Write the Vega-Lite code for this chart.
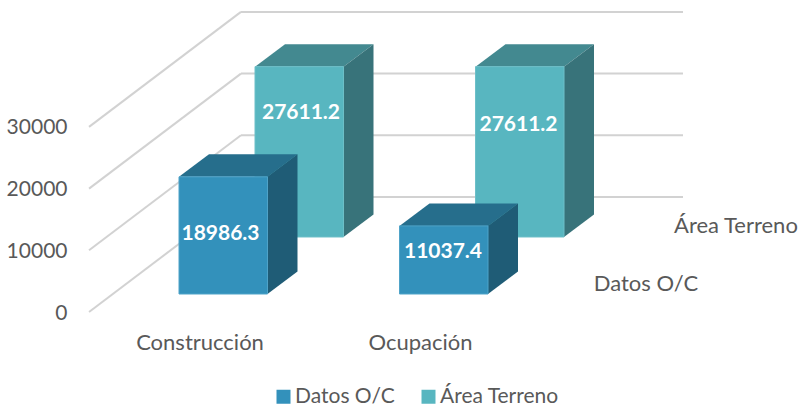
{
"$schema":"https://vega.github.io/schema/vega-lite/v6.json",
"width":802,"height":408,"padding":0,"autosize":{"type":"none"},"background":"white",
"config":{"view":{"stroke":null},"text":{"font":"Lato"},"legend":{"labelFont":"Lato"},
 "axisY":{"orient":"left","offset":-72,"title":null,"domain":false,"ticks":false,"grid":false,"labelFontSize":21,"labelColor":"#595959","labelPadding":5,"labelFont":"Lato","labelOffset":1}},
"datasets":{
"bars":[
{"category":"Construcción","series":"Datos O/C","value":18986.3},
{"category":"Ocupación","series":"Datos O/C","value":11037.4},
{"category":"Construcción","series":"Área Terreno","value":27611.2},
{"category":"Ocupación","series":"Área Terreno","value":27611.2}
],
"ticks":[{"tick":0},{"tick":10000},{"tick":20000},{"tick":30000}]
},
"layer":[
{"data":{"name":"ticks"},
 "transform":[{"calculate":"-0.408","as":"gx0"},{"calculate":"0.281","as":"gx1"},{"calculate":"datum.tick+18639","as":"gy1"}],
 "mark":{"type":"rule","color":"#d2d2d2","strokeWidth":2},
 "encoding":{
  "x":{"field":"gx0","type":"quantitative","scale":{"domain":[-0.8118,2.8254],"range":[0,802],"nice":false,"zero":false},"axis":null},
  "x2":{"field":"gx1"},
  "y":{"field":"tick","type":"quantitative","scale":{"domain":[-15559,50567],"range":[408,0],"nice":false,"zero":false},
       "axis":{"values":[0,10000,20000,30000],"title":null,"format":"d"}},
  "y2":{"field":"gy1"}}},
{"data":{"name":"ticks"},
 "transform":[{"calculate":"0.281","as":"gx1"},{"calculate":"2.2857","as":"gx2"},{"calculate":"datum.tick+18639","as":"gy1"}],
 "mark":{"type":"rule","color":"#d2d2d2","strokeWidth":2},
 "encoding":{
  "x":{"field":"gx1","type":"quantitative","axis":null},
  "x2":{"field":"gx2"},
  "y":{"field":"gy1","type":"quantitative","axis":{"values":[0,10000,20000,30000],"title":null,"format":"d"}}}},
{"data":{"name":"bars"},
 "transform":[
  {"calculate":"datum.category=='Construcción'?0:1","as":"cat"},
  {"calculate":"datum.series=='Datos O/C'?0:1","as":"dep"},
  {"calculate":"datum.cat+0.3447*datum.dep","as":"xL"},
  {"calculate":"datum.xL+0.4014","as":"xR"},
  {"calculate":"2917+9240*datum.dep","as":"base"},
  {"calculate":"datum.base+datum.value","as":"top"}
 ],
 "layer":[
  {"transform":[{"filter":"datum.dep==1"},{"calculate":"[0,1,2,3]","as":"k"},{"flatten":["k"]},
    {"calculate":"datum.k==0?datum.xL:datum.k==1?datum.xL+0.136:datum.k==2?datum.xR:datum.xR+0.136","as":"ax"},
    {"calculate":"datum.k==0?datum.top:datum.top+3647","as":"ay"},
    {"calculate":"datum.k==3?datum.top+3647:datum.top","as":"ay2"}],
   "mark":{"type":"area","orient":"vertical","color":"#438990"},
   "encoding":{"x":{"field":"ax","type":"quantitative","axis":null},"y":{"field":"ay","type":"quantitative","axis":{"values":[0,10000,20000,30000],"title":null,"format":"d"},"stack":null},"y2":{"field":"ay2"},"detail":{"field":"cat"}}},
  {"transform":[{"filter":"datum.dep==1"},{"calculate":"[0,1]","as":"k"},{"flatten":["k"]},
    {"calculate":"datum.xR+datum.k*0.136","as":"ax"},
    {"calculate":"datum.top+datum.k*3647","as":"ay"},
    {"calculate":"datum.base+datum.k*3647","as":"ay2"}],
   "mark":{"type":"area","orient":"vertical","color":"#38737A"},
   "encoding":{"x":{"field":"ax","type":"quantitative","axis":null},"y":{"field":"ay","type":"quantitative","axis":{"values":[0,10000,20000,30000],"title":null,"format":"d"},"stack":null},"y2":{"field":"ay2"},"detail":{"field":"cat"}}},
  {"transform":[{"filter":"datum.dep==1"}],
   "mark":{"type":"rect","strokeWidth":1,"stroke":"#6DBFC8"},
   "encoding":{"x":{"field":"xL","type":"quantitative","axis":null},"x2":{"field":"xR"},"y":{"field":"top","type":"quantitative","axis":{"values":[0,10000,20000,30000],"title":null,"format":"d"}},"y2":{"field":"base"},
     "color":{"field":"series","type":"nominal","scale":{"domain":["Datos O/C","Área Terreno"],"range":["#3391BB","#58B6C0"]},
       "legend":{"title":null,"orient":"none","legendX":273,"legendY":386,"direction":"horizontal","columns":2,"symbolType":"square","symbolSize":196,"symbolStrokeWidth":0,"labelFontSize":21,"labelColor":"#595959","labelFont":"Lato","columnPadding":23,"labelOffset":1,"padding":0}}}},
  {"transform":[{"filter":"datum.dep==0"},{"calculate":"[0,1,2,3]","as":"k"},{"flatten":["k"]},
    {"calculate":"datum.k==0?datum.xL:datum.k==1?datum.xL+0.136:datum.k==2?datum.xR:datum.xR+0.136","as":"ax"},
    {"calculate":"datum.k==0?datum.top:datum.top+3647","as":"ay"},
    {"calculate":"datum.k==3?datum.top+3647:datum.top","as":"ay2"}],
   "mark":{"type":"area","orient":"vertical","color":"#266E8C"},
   "encoding":{"x":{"field":"ax","type":"quantitative","axis":null},"y":{"field":"ay","type":"quantitative","axis":{"values":[0,10000,20000,30000],"title":null,"format":"d"},"stack":null},"y2":{"field":"ay2"},"detail":{"field":"cat"}}},
  {"transform":[{"filter":"datum.dep==0"},{"calculate":"[0,1]","as":"k"},{"flatten":["k"]},
    {"calculate":"datum.xR+datum.k*0.136","as":"ax"},
    {"calculate":"datum.top+datum.k*3647","as":"ay"},
    {"calculate":"datum.base+datum.k*3647","as":"ay2"}],
   "mark":{"type":"area","orient":"vertical","color":"#1F5C76"},
   "encoding":{"x":{"field":"ax","type":"quantitative","axis":null},"y":{"field":"ay","type":"quantitative","axis":{"values":[0,10000,20000,30000],"title":null,"format":"d"},"stack":null},"y2":{"field":"ay2"},"detail":{"field":"cat"}}},
  {"transform":[{"filter":"datum.dep==0"}],
   "mark":{"type":"rect","strokeWidth":1,"stroke":"#4FA3C8"},
   "encoding":{"x":{"field":"xL","type":"quantitative","axis":null},"x2":{"field":"xR"},"y":{"field":"top","type":"quantitative","axis":{"values":[0,10000,20000,30000],"title":null,"format":"d"}},"y2":{"field":"base"},
     "color":{"field":"series","type":"nominal"}}},
  {"transform":[
    {"calculate":"datum.dep==0?(datum.cat==0?0.1882:1.1973):(datum.cat==0?0.5533:1.5397)","as":"lx"},
    {"calculate":"datum.dep==0?(datum.cat==0?12642:9724):(datum.cat==0?32253:30308)","as":"ly"}],
   "mark":{"type":"text","font":"Lato","fontWeight":"bold","fontSize":21,"color":"white","align":"center","baseline":"middle"},
   "encoding":{"x":{"field":"lx","type":"quantitative","axis":null},"y":{"field":"ly","type":"quantitative","axis":{"values":[0,10000,20000,30000],"title":null,"format":"d"}},"text":{"field":"value","type":"quantitative","format":".1f"}}},
  {"transform":[{"filter":"datum.dep==0"},
    {"calculate":"datum.cat+0.0953","as":"lx"},{"calculate":"-5000","as":"ly"}],
   "mark":{"type":"text","font":"Lato","fontSize":22,"color":"#595959","align":"center","baseline":"middle"},
   "encoding":{"x":{"field":"lx","type":"quantitative","axis":null},"y":{"field":"ly","type":"quantitative","axis":{"values":[0,10000,20000,30000],"title":null,"format":"d"}},"text":{"field":"category"}}},
  {"transform":[{"filter":"datum.cat==0"},
    {"calculate":"2.118+0.408*datum.dep","as":"lx"},{"calculate":"4538+9400*datum.dep","as":"ly"}],
   "mark":{"type":"text","font":"Lato","fontSize":22,"color":"#595959","align":"center","baseline":"middle"},
   "encoding":{"x":{"field":"lx","type":"quantitative","axis":null},"y":{"field":"ly","type":"quantitative","axis":{"values":[0,10000,20000,30000],"title":null,"format":"d"}},"text":{"field":"series"}}}
 ]}
]
}
